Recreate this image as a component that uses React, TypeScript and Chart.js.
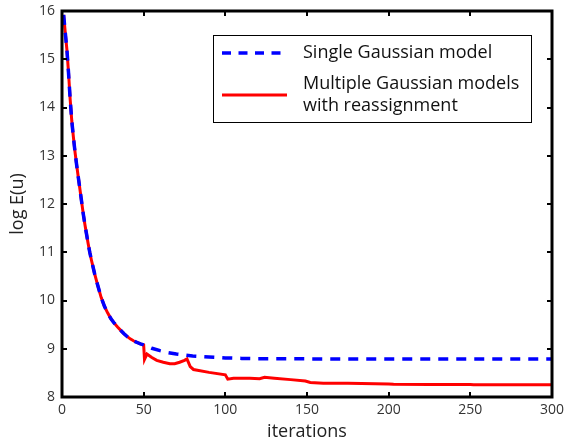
import React, { useEffect, useRef } from "react";
import { Chart, registerables } from "chart.js";

Chart.register(...registerables);

// ---- data ----
const commonIters = [1, 2, 3, 4, 5, 6, 7, 8, 9, 10, 11, 12, 13, 14, 15, 16, 17, 18, 20, 22, 24, 26, 28, 30, 32, 34, 36, 38, 40, 42, 44, 46, 48, 50];
const commonValues = [15.92, 15.55, 15.2, 14.72, 14.17, 13.72, 13.38, 13.07, 12.8, 12.55, 12.3, 12.05, 11.8, 11.58, 11.38, 11.18, 11.0, 10.84, 10.55, 10.3, 10.06, 9.88, 9.74, 9.62, 9.53, 9.45, 9.38, 9.31, 9.25, 9.2, 9.16, 9.13, 9.1, 9.08];

const singleTailIters = [55, 60, 65, 70, 75, 80, 85, 90, 100, 110, 120, 150, 200, 250, 300];
const singleTailValues = [9.01, 8.96, 8.92, 8.89, 8.87, 8.85, 8.84, 8.83, 8.81, 8.8, 8.795, 8.79, 8.787, 8.787, 8.787];

const multiTailIters = [50.5, 52, 55, 58, 62, 66, 69, 72, 75, 76.5, 78.5, 80.5, 90, 100, 101.5, 105, 115, 121, 124, 130, 140, 149, 152, 160, 175, 200, 203, 225, 250, 252, 275, 300];
const multiTailValues = [8.78, 8.89, 8.82, 8.76, 8.72, 8.69, 8.69, 8.72, 8.76, 8.79, 8.63, 8.57, 8.51, 8.46, 8.37, 8.39, 8.39, 8.38, 8.41, 8.39, 8.36, 8.33, 8.3, 8.285, 8.285, 8.27, 8.265, 8.26, 8.26, 8.255, 8.255, 8.255];

const xTicks = [0, 50, 100, 150, 200, 250, 300];
const yTicks = [8, 9, 10, 11, 12, 13, 14, 15, 16];

const seriesNames = ["Single Gaussian model", "Multiple Gaussian models\nwith reassignment"];

const FONT = '"Open Sans", "DejaVu Sans", sans-serif';

function toPoints(xs: number[], ys: number[]) {
  return xs.map((x, i) => ({ x, y: ys[i] }));
}

const framePlugin = {
  id: "frameAndLegend",
  afterDraw(chart: any) {
    const { ctx, chartArea, scales } = chart;
    const { left, right, top, bottom } = chartArea;
    ctx.save();
    // ticks (inward, mirrored)
    ctx.strokeStyle = "#000";
    ctx.lineWidth = 2;
    const tl = 5;
    ctx.beginPath();
    xTicks.forEach((v) => {
      const px = Math.round(scales.x.getPixelForValue(v));
      ctx.moveTo(px, bottom);
      ctx.lineTo(px, bottom - tl);
      ctx.moveTo(px, top);
      ctx.lineTo(px, top + tl);
    });
    yTicks.forEach((v) => {
      const py = Math.round(scales.y.getPixelForValue(v));
      ctx.moveTo(left, py);
      ctx.lineTo(left + tl, py);
      ctx.moveTo(right, py);
      ctx.lineTo(right - tl, py);
    });
    ctx.stroke();
    // frame
    ctx.lineWidth = 3;
    ctx.strokeRect(left, top, right - left, bottom - top);

    // legend
    const bx = 213.5, by = 35.5, bw = 318, bh = 87;
    ctx.fillStyle = "#fff";
    ctx.fillRect(bx, by, bw, bh);
    ctx.lineWidth = 1;
    ctx.strokeStyle = "#000";
    ctx.strokeRect(bx, by, bw, bh);

    const ds = chart.data.datasets;
    // single
    ctx.beginPath();
    ctx.strokeStyle = ds[0].borderColor;
    ctx.lineWidth = 3.5;
    ctx.setLineDash([9, 7.5]);
    ctx.moveTo(222, 53);
    ctx.lineTo(287, 53);
    ctx.stroke();
    ctx.setLineDash([]);
    // multiple
    ctx.beginPath();
    ctx.strokeStyle = ds[1].borderColor;
    ctx.lineWidth = 3;
    ctx.moveTo(222, 95);
    ctx.lineTo(287, 95);
    ctx.stroke();

    ctx.fillStyle = "#111";
    ctx.font = `18px ${FONT}`;
    ctx.textAlign = "left";
    ctx.textBaseline = "middle";
    ctx.fillText(seriesNames[0], 303, 53);
    const lines = seriesNames[1].split("\n");
    ctx.fillText(lines[0], 303, 84);
    ctx.fillText(lines[1], 303, 106);
    ctx.restore();
  },
};

export default function App() {
  const ref = useRef<HTMLCanvasElement | null>(null);
  useEffect(() => {
    document.body.style.margin = "0";
    const canvas = ref.current;
    if (!canvas) return;
    const chart = new Chart(canvas, {
      type: "line",
      data: {
        datasets: [
          {
            label: seriesNames[0],
            data: toPoints([...commonIters, ...singleTailIters], [...commonValues, ...singleTailValues]),
            borderColor: "#0000ff",
            borderWidth: 3.5,
            borderDash: [10, 8],
            pointRadius: 0,
            tension: 0,
            fill: false,
          },
          {
            label: seriesNames[1],
            data: toPoints([...commonIters, ...multiTailIters], [...commonValues, ...multiTailValues]),
            borderColor: "#ff0000",
            borderWidth: 3,
            pointRadius: 0,
            tension: 0,
            fill: false,
          },
        ],
      },
      options: {
        animation: false,
        responsive: false,
        devicePixelRatio: 1,
        layout: { padding: { top: 11, right: 12, left: 0, bottom: 0 } },
        plugins: { legend: { display: false }, tooltip: { enabled: false } },
        scales: {
          x: {
            type: "linear",
            min: 0,
            max: 300,
            afterBuildTicks: (s: any) => {
              s.ticks = xTicks.map((v) => ({ value: v }));
            },
            ticks: { padding: 5, color: "#333", font: { family: FONT, size: 14 }, maxRotation: 0 },
            grid: { display: false, drawTicks: false },
            border: { display: false },
            title: { display: true, text: "iterations", color: "#222", font: { family: FONT, size: 18, lineHeight: 1 }, padding: 0 },
            afterFit: (s: any) => {
              s.height = 44;
              s.paddingLeft = 0;
              s.paddingRight = 0;
            },
          },
          y: {
            type: "linear",
            min: 8,
            max: 16,
            afterBuildTicks: (s: any) => {
              s.ticks = yTicks.map((v) => ({ value: v }));
            },
            ticks: { padding: 7, color: "#333", font: { family: FONT, size: 14 } },
            grid: { display: false, drawTicks: false },
            border: { display: false },
            title: { display: true, text: "log E(u)", color: "#222", font: { family: FONT, size: 18, lineHeight: 1 }, padding: { top: 9, bottom: 0 } },
            afterFit: (s: any) => {
              s.width = 62;
              s.paddingTop = 0;
              s.paddingBottom = 0;
            },
          },
        },
      },
      plugins: [framePlugin],
    } as any);
    return () => chart.destroy();
  }, []);
  return <canvas ref={ref} width={564} height={441} style={{ display: "block" }} />;
}
